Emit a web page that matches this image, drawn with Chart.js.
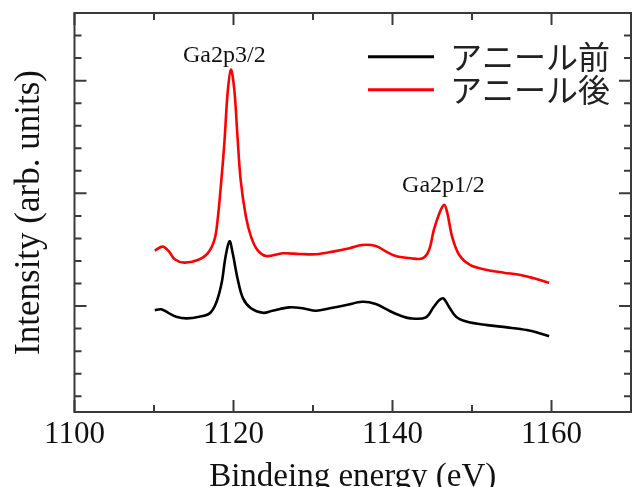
<!DOCTYPE html>
<html>
<head>
<meta charset="utf-8">
<script src="https://cdn.jsdelivr.net/npm/chart.js@4.4.0/dist/chart.umd.min.js"></script>
<style>
  html, body { margin: 0; padding: 0; background: #fff; }
</style>
</head>
<body>
<canvas id="xpsChart" width="636" height="487"></canvas>
<script>
// values (x: binding energy in eV, y: arbitrary units)
const beforeEnergy = [1110.1, 1110.9, 1111.8, 1112.8, 1114.1, 1115.7, 1117.0, 1117.8, 1118.5, 1119.0,
  1119.5, 1119.9, 1120.55, 1121.2, 1122.2, 1123.7, 1124.9, 1127.0, 1128.7, 1130.4, 1132.1, 1134.2,
  1136.2, 1137.9, 1139.6, 1140.8, 1142.3, 1144.2, 1145.2, 1145.9, 1146.4, 1147.1, 1148.0, 1149.4,
  1151.9, 1154.4, 1156.9, 1158.6, 1159.7]
const beforeIntensity = [0.964, 0.971, 0.940, 0.905, 0.891, 0.905, 0.935, 1.024, 1.202, 1.438,
  1.575, 1.468, 1.231, 1.068, 0.980, 0.940, 0.958, 0.988, 0.980, 0.958, 0.980, 1.009,
  1.038, 1.018, 0.958, 0.920, 0.891, 0.900, 0.994, 1.053, 1.068, 0.994, 0.905, 0.860,
  0.831, 0.811, 0.787, 0.757, 0.733]

const afterEnergy = [1110.1, 1111.1, 1111.9, 1112.6, 1113.8, 1115.5, 1116.75, 1117.6, 1118.0, 1118.4,
  1118.85, 1119.26, 1119.67, 1120.1, 1120.5, 1120.9, 1121.56, 1122.2, 1123.0, 1124.1, 1126.2, 1128.3,
  1130.4, 1132.5, 1134.6, 1136.2, 1137.9, 1139.2, 1140.4, 1142.3, 1143.8, 1144.6, 1145.2, 1145.9,
  1146.5, 1146.9, 1147.5, 1148.4, 1149.8, 1151.9, 1154.0, 1156.1, 1157.8, 1159.7]
const afterIntensity = [1.492, 1.527, 1.483, 1.415, 1.385, 1.409, 1.468, 1.587, 1.764, 2.060,
  2.446, 2.891, 3.098, 2.920, 2.505, 2.120, 1.794, 1.616, 1.498, 1.444, 1.468, 1.462,
  1.460, 1.483, 1.513, 1.542, 1.533, 1.483, 1.444, 1.424, 1.424, 1.498, 1.676, 1.824,
  1.898, 1.824, 1.616, 1.453, 1.364, 1.320, 1.296, 1.276, 1.246, 1.207]

const seriesNames = ['アニール前', 'アニール後']

const peakNames = ['Ga2p3/2', 'Ga2p1/2']
const peakEnergy = [1118.85, 1146.4]
const peakLabelLevel = [3.163, 2.016]

const xMajorTicks = [1100, 1120, 1140, 1160]
const xMinorTicks = [1110, 1130, 1150]
const yMajorTicks = [1, 2, 3]
const yMinorTicks = [0.2, 0.4, 0.6, 0.8, 1.2, 1.4, 1.6, 1.8, 2.2, 2.4, 2.6, 2.8, 3.2, 3.4]

const serif = "'Liberation Serif', 'Times New Roman', serif"
const ink = '#111'

function toPoints(xs, ys) {
  return xs.map((x, i) => ({ x: x, y: ys[i] }))
}

// frame with inward ticks on all four sides
const framePlugin = {
  id: 'frame',
  afterDatasetsDraw(chart) {
    const { ctx, chartArea: a, scales: { x, y } } = chart
    ctx.save()
    ctx.strokeStyle = '#3a3a3a'
    ctx.lineWidth = 2
    ctx.beginPath()
    const tickX = (v, len) => {
      const px = x.getPixelForValue(v)
      ctx.moveTo(px, a.bottom); ctx.lineTo(px, a.bottom - len)
      ctx.moveTo(px, a.top); ctx.lineTo(px, a.top + len)
    }
    const tickY = (v, len) => {
      const py = y.getPixelForValue(v)
      ctx.moveTo(a.left, py); ctx.lineTo(a.left + len, py)
      ctx.moveTo(a.right, py); ctx.lineTo(a.right - len, py)
    }
    xMajorTicks.forEach(v => tickX(v, 12))
    xMinorTicks.forEach(v => tickX(v, 7))
    yMajorTicks.forEach(v => tickY(v, 12))
    yMinorTicks.forEach(v => tickY(v, 7))
    ctx.stroke()
    ctx.strokeRect(a.left, a.top, a.right - a.left, a.bottom - a.top)

    ctx.fillStyle = ink
    ctx.font = '24px ' + serif
    ctx.textAlign = 'center'
    ctx.textBaseline = 'alphabetic'
    peakNames.forEach((name, i) => {
      ctx.fillText(name, x.getPixelForValue(peakEnergy[i]), y.getPixelForValue(peakLabelLevel[i]))
    })
    ctx.restore()
  }
}

// put the legend in the upper right corner of the plot
const legendPlacePlugin = {
  id: 'legendPlace',
  afterLayout(chart) {
    const lg = chart.legend
    const w = lg.width, h = lg.height
    lg.left = chart.chartArea.right - 264
    lg.top = chart.chartArea.top + 26.7
    lg.right = lg.left + w
    lg.bottom = lg.top + h
  }
}

const ctx = document.getElementById('xpsChart')
new Chart(ctx, {
  type: 'line',
  data: {
    datasets: [{
      label: seriesNames[0],
      data: toPoints(beforeEnergy, beforeIntensity),
      borderColor: '#000',
      backgroundColor: '#000',
      borderWidth: 2.6,
      pointRadius: 0,
      tension: 0.35,
      fill: false
    }, {
      label: seriesNames[1],
      data: toPoints(afterEnergy, afterIntensity),
      borderColor: '#ff0000',
      backgroundColor: '#ff0000',
      borderWidth: 2.6,
      pointRadius: 0,
      tension: 0.35,
      fill: false
    }]
  },
  options: {
    responsive: false,
    animation: false,
    layout: { padding: { top: 13, right: 5, left: 0, bottom: 0 } },
    plugins: {
      tooltip: { enabled: false },
      legend: {
        position: 'chartArea',
        align: 'start',
        labels: {
          boxWidth: 66,
          boxHeight: 3,
          padding: 1,
          color: '#222',
          font: { family: "'Noto Sans CJK JP', sans-serif", size: 32 },
          generateLabels: chart => Chart.defaults.plugins.legend.labels.generateLabels(chart)
            .map(l => Object.assign(l, { fillStyle: l.strokeStyle, lineWidth: 0 }))
        }
      }
    },
    scales: {
      x: {
        type: 'linear',
        min: 1100,
        max: 1170,
        grid: { display: false, drawTicks: false },
        border: { display: false },
        afterBuildTicks: s => { s.ticks = xMajorTicks.map(v => ({ value: v })) },
        afterFit: s => { s.height = 75 },
        ticks: {
          autoSkip: false,
          maxRotation: 0,
          padding: 4,
          color: ink,
          font: { family: serif, size: 31 },
          callback: v => String(v)
        },
        title: {
          display: true,
          text: 'Bindeing energy (eV)',
          color: ink,
          padding: 0,
          font: { family: serif, size: 33, lineHeight: 0.6 }
        }
      },
      y: {
        type: 'linear',
        min: 0.06,
        max: 3.6,
        grid: { display: false, drawTicks: false },
        border: { display: false },
        ticks: { display: false },
        afterFit: s => { s.width = 74.5 },
        title: {
          display: true,
          text: 'Intensity (arb. units)',
          color: ink,
          padding: { top: 9 },
          font: { family: serif, size: 35 }
        }
      }
    }
  },
  plugins: [framePlugin, legendPlacePlugin]
})
</script>
</body>
</html>
